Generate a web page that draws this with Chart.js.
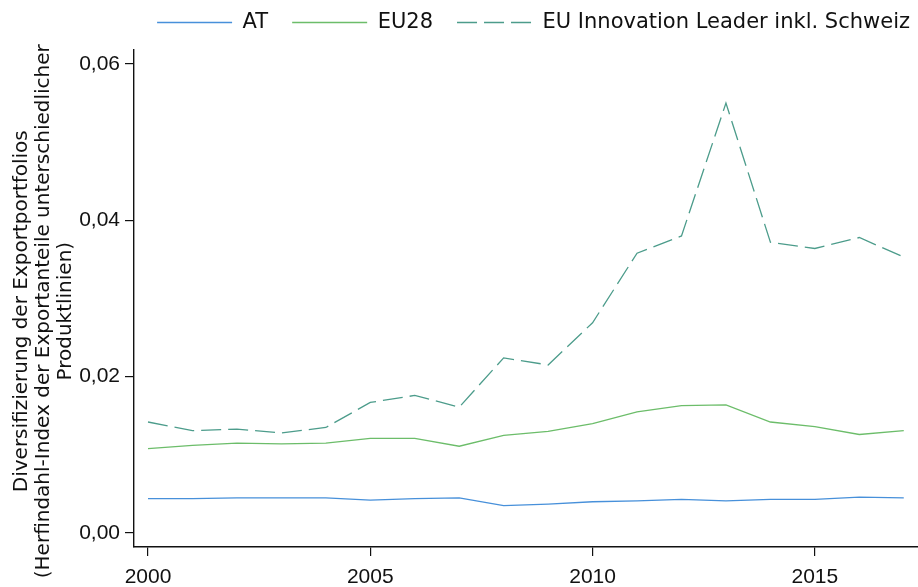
<!DOCTYPE html>
<html>
<head>
<meta charset="utf-8">
<script src="https://cdn.jsdelivr.net/npm/chart.js@4.4.1/dist/chart.umd.min.js"></script>
<style>
html,body{margin:0;padding:0;background:#fff;overflow:hidden;}
#wrap{width:918px;height:587px;overflow:hidden;}
</style>
</head>
<body>
<div id="wrap"><canvas id="c" width="918" height="587"></canvas></div>
<script>
const years = [2000,2001,2002,2003,2004,2005,2006,2007,2008,2009,2010,2011,2012,2013,2014,2015,2016,2017];
const seriesNames = ["AT","EU28","EU Innovation Leader inkl. Schweiz"];
const atValues = [0.0044,0.0044,0.0045,0.0045,0.0045,0.0042,0.0044,0.0045,0.0035,0.0037,0.0040,0.0041,0.0043,0.0041,0.0043,0.0043,0.0046,0.0045];
const eu28Values = [0.0108,0.0112,0.0115,0.0114,0.0115,0.0121,0.0121,0.0111,0.0125,0.0130,0.0140,0.0155,0.0163,0.0164,0.0142,0.0136,0.0126,0.0131];
const leaderValues = [0.0142,0.0131,0.0133,0.0128,0.0135,0.0167,0.0176,0.0161,0.0224,0.0215,0.0269,0.0358,0.0380,0.0550,0.0372,0.0364,0.0378,0.0353];
const xTicks = [2000,2005,2010,2015];
const yTicks = [0,0.02,0.04,0.06];
const yTickLabels = ["0,00","0,02","0,04","0,06"];
const yTitle = ["Diversifizierung der Exportportfolios    ","(Herfindahl-Index der Exportanteile unterschiedlicher    ","Produktlinien)    "];

const toPts = v => years.map((y,i)=>({x:y,y:v[i]}));
const LEG_FONT = "'DejaVu Sans', sans-serif";
const TICK_FONT = "'Liberation Sans', Arial, sans-serif";

const legendGap = {
  id:'legendGap',
  afterInit(chart){
    const lg = chart.legend;
    if(lg && !lg._gapWrapped){
      const orig = lg.fit;
      lg.fit = function(){ orig.call(this); this.height += 7; };
      lg._gapWrapped = true;
    }
  }
};

new Chart(document.getElementById('c'), {
  type: 'line',
  plugins:[legendGap],
  data: {
    datasets: [
      {label: seriesNames[0], data: toPts(atValues), borderColor:'#4790da', borderWidth:1.3, pointRadius:0, tension:0},
      {label: seriesNames[1], data: toPts(eu28Values), borderColor:'#6cbd6a', borderWidth:1.3, pointRadius:0, tension:0},
      {label: seriesNames[2], data: toPts(leaderValues), borderColor:'#4c9c8b', borderWidth:1.3, pointRadius:0, tension:0, borderDash:[20,7]}
    ]
  },
  options: {
    responsive:false,
    animation:false,
    devicePixelRatio:1,
    layout:{padding:{top:-12,right:-16,left:0,bottom:0}},
    plugins:{
      tooltip:{enabled:false},
      legend:{
        position:'top',
        align:'end',
        labels:{
          usePointStyle:true,
          pointStyle:'line',
          pointStyleWidth:75,
          padding:24,
          color:'#111',
          font:{family:LEG_FONT,size:21},
          generateLabels:(chart)=>chart.data.datasets.map((ds,i)=>({
            text:ds.label, fillStyle:ds.borderColor, strokeStyle:ds.borderColor,
            lineWidth:1.3, lineDash:ds.borderDash||[], pointStyle:'line',
            fontColor:'#111', hidden:false, datasetIndex:i
          }))
        }
      }
    },
    scales:{
      x:{
        type:'linear',
        min:1999.685,
        max:2017.32,
        afterBuildTicks:(ax)=>{ax.ticks = xTicks.map(v=>({value:v}));},
        afterFit:(s)=>{s.height = 40;},
        ticks:{color:'#111',font:{family:TICK_FONT,size:21},padding:9,callback:v=>String(v)},
        grid:{display:true,drawOnChartArea:false,drawTicks:true,tickLength:9,color:'#111',lineWidth:1.2},
        border:{display:true,color:'#111',width:1.4}
      },
      y:{
        type:'linear',
        min:-0.00179,
        max:0.06179,
        afterBuildTicks:(ax)=>{ax.ticks = yTicks.map(v=>({value:v}));},
        afterFit:(s)=>{s.width = 134;},
        ticks:{color:'#111',font:{family:TICK_FONT,size:21},padding:5,callback:(v)=>{const i=yTicks.findIndex(t=>Math.abs(t-v)<1e-9);return i>=0?yTickLabels[i]:'';}},
        grid:{display:true,drawOnChartArea:false,drawTicks:true,tickLength:9,color:'#111',lineWidth:1.2},
        border:{display:true,color:'#111',width:1.4},
        title:{display:true,text:yTitle,color:'#111',font:{family:LEG_FONT,size:20,lineHeight:1.1},padding:{top:11,bottom:-2}}
      }
    }
  }
});
</script>
</body>
</html>
